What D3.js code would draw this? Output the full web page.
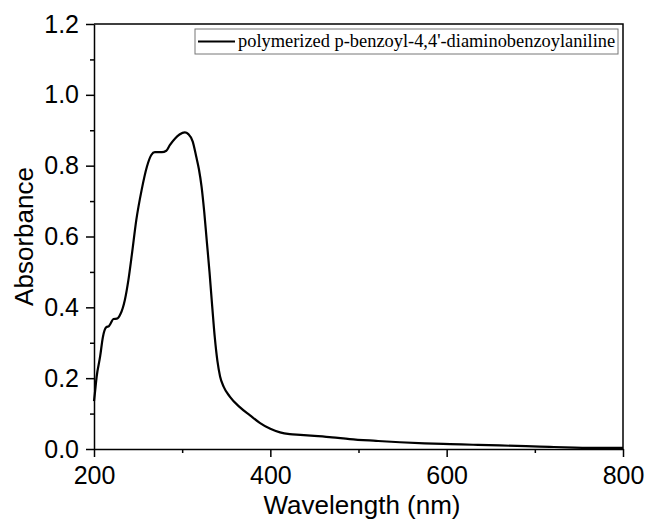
<!DOCTYPE html>
<html>
<head>
<meta charset="utf-8">
<script src="https://cdn.jsdelivr.net/npm/d3@7"></script>
<style>
  body { margin: 0; background: #fff; }
  svg { display: block; }
</style>
</head>
<body>
<script>
"use strict";

// wavelength (nm) and absorbance
const wavelength = [200, 201, 203, 207, 210, 214, 217, 219, 222, 226, 230, 235, 239, 243, 248,
  254, 260, 265, 269, 273, 277, 282, 286, 292, 297, 303, 307, 312, 316, 319, 322, 325, 328,
  331, 334, 337, 340, 343, 347, 354, 365, 377, 388, 400, 411, 422, 434, 450, 470, 490, 520,
  547, 575, 604, 630, 660, 690, 717, 745, 774, 800];
const absorbance = [0.135, 0.157, 0.204, 0.262, 0.315, 0.344, 0.347, 0.355, 0.367, 0.368,
  0.381, 0.421, 0.477, 0.55, 0.647, 0.731, 0.797, 0.830, 0.838, 0.838, 0.838, 0.842, 0.858,
  0.877, 0.888, 0.894, 0.889, 0.868, 0.825, 0.79, 0.741, 0.67, 0.585, 0.50, 0.405, 0.315,
  0.248, 0.205, 0.176, 0.148, 0.119, 0.095, 0.074, 0.057, 0.047, 0.042, 0.040, 0.037, 0.033,
  0.028, 0.023, 0.019, 0.016, 0.014, 0.012, 0.010, 0.008, 0.006, 0.004, 0.003, 0.003];

const xMajor = [200, 400, 600, 800];
const xMinor = [300, 500, 700];
const yMajor = [0, 0.2, 0.4, 0.6, 0.8, 1.0, 1.2];
const yMinor = [0.1, 0.3, 0.5, 0.7, 0.9, 1.1];

const seriesName = "polymerized p-benzoyl-4,4'-diaminobenzoylaniline";

const width = 651, height = 523;
const margin = { top: 24, right: 28, bottom: 74, left: 94 };

const svg = d3.select("body").append("svg")
  .attr("width", width)
  .attr("height", height);

const x = d3.scaleLinear().domain([200, 800]).range([margin.left, width - margin.right]);
const y = d3.scaleLinear().domain([0, 1.2]).range([height - margin.bottom, margin.top]);

const sans = "'Liberation Sans', Arial, sans-serif";

// frame top + right
svg.append("path")
  .attr("d", `M${x(200)},${y(1.2)}H${x(800)}V${y(0)}`)
  .attr("fill", "none")
  .attr("stroke", "#000")
  .attr("stroke-width", 1.5);

// x axis
svg.append("g")
  .attr("transform", `translate(0,${y(0)})`)
  .call(d3.axisBottom(x).tickValues(xMajor).tickSize(8).tickPadding(9).tickSizeOuter(0));
svg.append("g")
  .attr("transform", `translate(0,${y(0)})`)
  .call(d3.axisBottom(x).tickValues(xMinor).tickSize(4).tickFormat("").tickSizeOuter(0))
  .call((g) => g.select(".domain").remove());

// y axis
svg.append("g")
  .attr("transform", `translate(${x(200)},0)`)
  .call(d3.axisLeft(y).tickValues(yMajor).tickSize(8).tickPadding(7)
    .tickFormat(d3.format(".1f")).tickSizeOuter(0));
svg.append("g")
  .attr("transform", `translate(${x(200)},0)`)
  .call(d3.axisLeft(y).tickValues(yMinor).tickSize(4).tickFormat("").tickSizeOuter(0))
  .call((g) => g.select(".domain").remove());

svg.selectAll(".domain, .tick line")
  .attr("stroke", "#000")
  .attr("stroke-width", 1.5);
svg.selectAll(".tick text")
  .attr("font-family", sans)
  .attr("font-size", 25)
  .attr("fill", "#000");

// axis titles
svg.append("text")
  .attr("x", 362)
  .attr("y", 514)
  .attr("text-anchor", "middle")
  .attr("font-family", sans)
  .attr("font-size", 26)
  .text("Wavelength (nm)");

svg.append("text")
  .attr("transform", `translate(33,${(y(0) + y(1.2)) / 2}) rotate(-90)`)
  .attr("text-anchor", "middle")
  .attr("font-family", sans)
  .attr("font-size", 26)
  .text("Absorbance");

// spectrum
const points = wavelength.map((w, i) => [w, absorbance[i]]);
const line = d3.line()
  .x((d) => x(d[0]))
  .y((d) => y(d[1]))
  .curve(d3.curveMonotoneX);

svg.append("path")
  .datum(points)
  .attr("d", line)
  .attr("fill", "none")
  .attr("stroke", "#000")
  .attr("stroke-width", 2.2)
  .attr("stroke-linejoin", "round");

// legend
const legend = svg.append("g").attr("transform", "translate(195,29)");
legend.append("rect")
  .attr("width", 423)
  .attr("height", 25)
  .attr("fill", "#fff")
  .attr("stroke", "#777")
  .attr("stroke-width", 1);
legend.append("line")
  .attr("x1", 3).attr("x2", 40)
  .attr("y1", 12.5).attr("y2", 12.5)
  .attr("stroke", "#000")
  .attr("stroke-width", 2.2);
legend.append("text")
  .attr("x", 43)
  .attr("y", 18)
  .attr("font-family", "'Liberation Serif', 'Times New Roman', serif")
  .attr("font-size", 18.4)
  .text(seriesName);
</script>
</body>
</html>
